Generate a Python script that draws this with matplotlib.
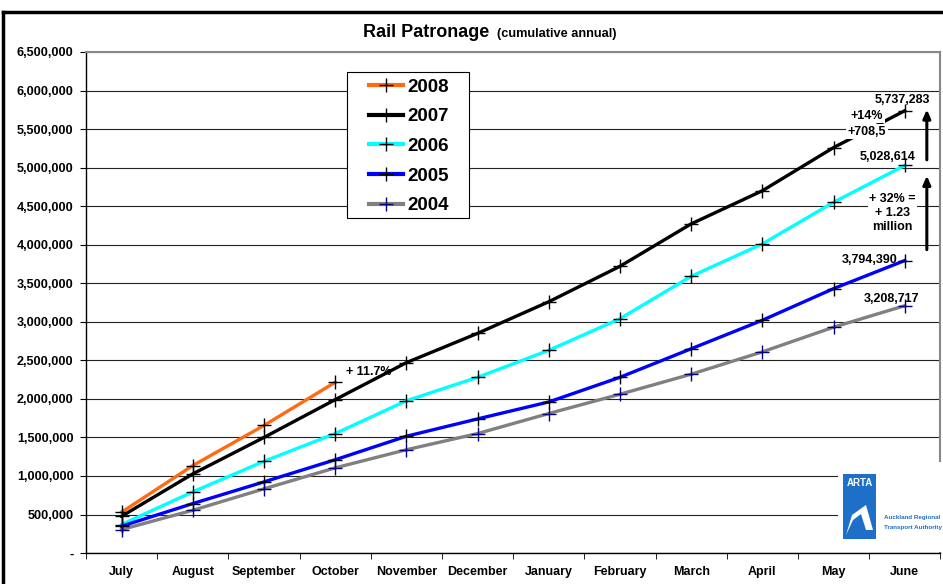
import matplotlib.pyplot as plt
import matplotlib.patches as mpatches
from matplotlib.lines import Line2D
from matplotlib.ticker import FuncFormatter

plt.rcParams['font.family'] = ['Liberation Sans', 'DejaVu Sans']

months = ["July", "August", "September", "October", "November", "December",
          "January", "February", "March", "April", "May", "June"]

p2008 = [530000, 1135000, 1655000, 2215000]
p2007 = [477000, 1027000, 1500000, 1990000, 2470000, 2850000, 3260000,
         3720000, 4270000, 4700000, 5260000, 5737283]
p2006 = [370000, 794000, 1190000, 1550000, 1975000, 2280000, 2630000,
         3040000, 3590000, 4010000, 4550000, 5028614]
p2005 = [348000, 642000, 923000, 1210000, 1515000, 1740000, 1960000,
         2280000, 2650000, 3020000, 3430000, 3794390]
p2004 = [305000, 555000, 833000, 1105000, 1340000, 1550000, 1810000,
         2060000, 2320000, 2610000, 2930000, 3208717]

series = [("2008", p2008, "#ff6a13", "black"),
          ("2007", p2007, "black", "black"),
          ("2006", p2006, "#00ffff", "black"),
          ("2005", p2005, "#0000ff", "black"),
          ("2004", p2004, "#808080", "#000080")]

fig = plt.figure(figsize=(9.43, 5.84), dpi=100)
ax = fig.add_axes([0.0912, 0.053, 0.906, 0.858])

x = list(range(len(months)))
for name, vals, col, mcol in series:
    ax.plot(x[:len(vals)], vals, color=col, lw=2.4, label=name, zorder=3)
    ax.plot(x[:len(vals)], vals, ls="none", marker="+", ms=10, mew=1.0,
            color=mcol, zorder=4)

ax.set_xlim(-0.5, 11.5)
ax.set_ylim(0, 6500000)
ax.set_yticks(range(0, 6500001, 500000))
ax.yaxis.set_major_formatter(FuncFormatter(lambda v, p: "-" if v == 0 else f"{int(v):,}"))
ax.set_xticks(x)
ax.set_xticklabels(months)
ax.set_xticks([i + 0.5 for i in range(-1, 12)], minor=True)
ax.tick_params(axis="x", which="major", length=0, pad=9, labelsize=9)
ax.tick_params(axis="x", which="minor", length=4, direction="out")
ax.tick_params(axis="y", length=4, direction="out", labelsize=9.1, pad=5)
for lab in ax.get_xticklabels() + ax.get_yticklabels():
    lab.set_fontweight("bold")

ax.grid(axis="y", color="#222222", lw=0.8, zorder=0)
for s in ("left", "bottom"):
    ax.spines[s].set_color("black")
    ax.spines[s].set_linewidth(1.0)
for s in ("top", "right"):
    ax.spines[s].set_color("#888888")
    ax.spines[s].set_linewidth(1.5)

# legend box drawn separately so the side padding can be wider than the top/bottom
ax.add_patch(mpatches.Rectangle((0.305, 0.669), 0.143, 0.291, transform=ax.transAxes,
                                fc="white", ec="black", lw=0.8, zorder=7))
handles = [Line2D([0], [0], color=col, lw=3, marker="+", ms=10, mew=1.0,
                  markeredgecolor=mcol) for _, _, col, mcol in series]
leg = ax.legend(handles, [s[0] for s in series], loc="upper left",
                bbox_to_anchor=(0.331, 0.947), frameon=False,
                handlelength=1.8, handletextpad=0.25, labelspacing=0.67,
                borderpad=0, borderaxespad=0,
                prop={"weight": "bold", "size": 13.5})
leg.set_zorder(8)

# title
fig.text(0.385, 0.944, "Rail Patronage", ha="left", va="center",
         fontsize=13, fontweight="bold")
fig.text(0.527, 0.942, "(cumulative annual)", ha="left", va="center",
         fontsize=9.2, fontweight="bold")

# annotations
ann = dict(fontsize=9, fontweight="bold", zorder=6)
ax.text(3.15, 2350000, "+ 11.7%", ha="left", va="center", **ann)
ax.text(11.35, 5880000, "5,737,283", ha="right", va="center", **ann)
ax.text(10.47, 5674000, "+14%", ha="center", va="center",
        bbox=dict(fc="white", ec="none", pad=1), **ann)
ax.text(10.47, 5467000, "+708,5", ha="center", va="center",
        bbox=dict(fc="white", ec="none", pad=1), **ann)
ax.text(11.15, 5143000, "5,028,614", ha="right", va="center", **ann)
ax.text(10.83, 4410000, "+ 32% =\n+ 1.23\nmillion", ha="center", va="center",
        linespacing=1.25, bbox=dict(fc="white", ec="none", pad=1), **ann)
ax.text(10.9, 3800000, "3,794,390", ha="right", va="center", **ann)
ax.text(11.2, 3300000, "3,208,717", ha="right", va="center", **ann)

arrow = dict(arrowstyle="-|>,head_length=0.5,head_width=0.22", color="black", lw=2.2)
ax.annotate("", xy=(11.31, 5790000), xytext=(11.31, 5065000), arrowprops=arrow, zorder=6)
ax.annotate("", xy=(11.31, 4930000), xytext=(11.31, 3900000), arrowprops=arrow, zorder=6)

# ARTA logo panel
fig.patches.append(mpatches.Rectangle((838 / 943, 1 - 552 / 584), 104 / 943, 90 / 584,
                                      transform=fig.transFigure, fc="white", ec="none", zorder=5))
fig.patches.append(mpatches.Rectangle((843 / 943, 1 - 539 / 584), 33 / 943, 65 / 584,
                                      transform=fig.transFigure, fc="#1e6fc8", ec="none", zorder=6))
wave = mpatches.Polygon([(846 / 943, 1 - 535 / 584), (852 / 943, 1 - 515 / 584),
                         (866 / 943, 1 - 505 / 584), (873 / 943, 1 - 530 / 584),
                         (866 / 943, 1 - 530 / 584), (861 / 943, 1 - 514 / 584),
                         (853 / 943, 1 - 520 / 584)],
                        closed=True, transform=fig.transFigure, fc="white", ec="none", zorder=7)
fig.patches.append(wave)
fig.text(859.5 / 943, 1 - 483 / 584, "ARTA", color="white", fontsize=7,
         fontweight="bold", ha="center", va="center", zorder=8)
fig.text(884 / 943, 1 - 518 / 584, "Auckland Regional", color="#1e6fc8",
         fontsize=4.5, fontweight="bold", ha="left", va="center", zorder=8)
fig.text(884 / 943, 1 - 527 / 584, "Transport Authority", color="#1e6fc8",
         fontsize=4.5, fontweight="bold", ha="left", va="center", zorder=8)

# outer chart border (left and top edges)
fig.lines.append(Line2D([3 / 943, 3 / 943], [0, 1 - 12 / 584], transform=fig.transFigure,
                        color="black", lw=2.5))
fig.lines.append(Line2D([3 / 943, 1], [1 - 12 / 584, 1 - 12 / 584], transform=fig.transFigure,
                        color="black", lw=2.5))

fig.savefig("out.png", dpi=100)
